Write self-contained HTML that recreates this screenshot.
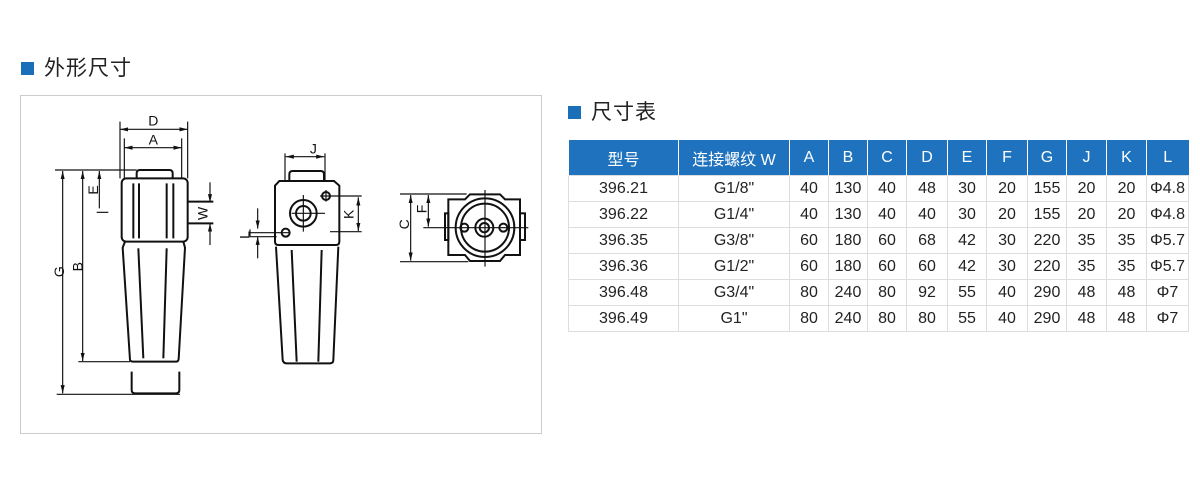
<!DOCTYPE html>
<html><head><meta charset="utf-8"><style>
body{margin:0;width:1200px;height:494px;background:#fff;position:relative;overflow:hidden;font-family:"Liberation Sans","Noto Sans CJK SC",sans-serif}
.t{position:absolute;font-size:21px;color:#222;line-height:24px}
.sq{position:absolute;width:13px;height:13px;background:#1a6fb8}
table{position:absolute;left:568px;top:140px;border-collapse:collapse;font-size:16px;color:#222;table-layout:fixed;width:620px}
th{background:#1f72bd;color:#fff;font-weight:normal;height:35px;border-left:1px solid #fff;padding:0;font-size:16px}
td{height:25px;border:1px solid #ddd;text-align:center;padding:0;white-space:nowrap}
</style></head><body>
<div class="sq" style="left:21px;top:62px"></div>
<div class="t" style="left:44px;top:57px;letter-spacing:1px">外形尺寸</div>
<div class="sq" style="left:568px;top:106px"></div>
<div class="t" style="left:591px;top:101px;letter-spacing:1px">尺寸表</div>
<div style="position:absolute;left:20px;top:95px;width:520px;height:337px;border:1px solid #ccc"></div>
<svg style="position:absolute;left:20px;top:95px" width="520" height="340" viewBox="0 0 1560 1020">
<defs><marker id="a" viewBox="0 0 10 10" refX="10" refY="5" markerWidth="9" markerHeight="9" markerUnits="userSpaceOnUse" orient="auto-start-reverse"><path d="M0,2 L10,5 L0,8z" fill="#111"/></marker>
<marker id="b" viewBox="0 0 10 10" refX="10" refY="5" markerWidth="7" markerHeight="7" orient="auto-start-reverse"><path d="M0,2.5 L10,5 L0,7.5z" fill="#111"/></marker></defs>
<g fill="none" stroke="#111" stroke-width="6">
<path d="M350,250 V235 Q350,225 360,225 H448 Q458,225 458,235 V250"/>
<rect x="305" y="250" width="198" height="190" rx="14"/>
<path d="M340,265 V430 M357,265 V430 M440,265 V430 M460,265 V430"/>
<path d="M315,440 L308,458 L330,795 Q332,800 340,800 H468 Q475,800 476,792 L495,458 L490,440"/>
<path d="M355,460 L370,790 M440,460 L430,790"/>
<path d="M335,830 V885 Q335,895 345,895 H468 Q478,895 478,885 V830"/>
<path d="M503,320 H580 M503,385 H580"/>
<g stroke-width="3.5">
<path d="M300,80 V250 M503,80 V250 M485,130 V250 M313,130 V250"/>
<path d="M300,103 H503" marker-start="url(#b)" marker-end="url(#b)"/>
<path d="M313,158 H485" marker-start="url(#b)" marker-end="url(#b)"/>
<path d="M105,225 H350"/><path d="M110,898 H480"/><path d="M175,800 H330"/>
<path d="M128,228 V895" marker-start="url(#b)" marker-end="url(#b)"/>
<path d="M188,228 V798" marker-start="url(#b)" marker-end="url(#b)"/>
<path d="M238,228 V340" marker-start="url(#b)"/><path d="M230,352 H265"/>
<path d="M570,262 V322" marker-end="url(#b)"/><path d="M570,450 V385" marker-end="url(#b)"/>
</g>
<path d="M808,258 V238 Q808,228 818,228 H902 Q912,228 912,238 V258"/>
<path d="M778,258 H942 L958,272 V440 Q958,450 948,450 H775 Q765,450 765,440 V272z"/>
<path d="M768,455 L788,795 Q790,805 800,805 H930 Q940,805 940,795 L955,455"/>
<path d="M815,465 L830,800 M905,465 L895,800"/>
<circle cx="850" cy="355" r="40"/><circle cx="850" cy="355" r="22"/>
<circle cx="918" cy="303" r="12"/><circle cx="797" cy="413" r="12"/>
<g stroke-width="3.5">
<path d="M795,175 V258 M915,175 V258"/>
<path d="M797,185 H913" marker-start="url(#b)" marker-end="url(#b)"/>
<path d="M815,355 H915 M850,300 V410 M900,303 H1025 M930,410 H1025 M690,413 H810 M918,285 V320"/>
<path d="M1015,307 V408" marker-start="url(#b)" marker-end="url(#b)"/>
<path d="M713,340 V401" marker-end="url(#b)"/><path d="M713,490 V425" marker-end="url(#b)"/>
<path d="M690,403 V425 M690,425 H770"/>
</g>
<path d="M1285,313 H1335 L1350,298 H1440 L1455,313 H1500 V480 H1455 L1440,498 H1350 L1335,480 H1285z"/>
<rect x="1275" y="355" width="10" height="80"/><rect x="1500" y="355" width="15" height="80"/>
<circle cx="1395" cy="398" r="88"/><circle cx="1395" cy="398" r="72"/>
<circle cx="1393" cy="398" r="27"/><circle cx="1393" cy="398" r="14"/>
<circle cx="1333" cy="398" r="12"/><circle cx="1450" cy="398" r="12"/>
<g stroke-width="3.5">
<path d="M1395,285 V515 M1210,398 H1525 M1140,297 H1340 M1140,500 H1345"/>
<path d="M1172,300 V497" marker-start="url(#b)" marker-end="url(#b)"/>
<path d="M1225,300 V395" marker-start="url(#b)" marker-end="url(#b)"/>
</g>
</g>
<g font-family="Liberation Sans" font-size="42" fill="#111" text-anchor="middle">
<text x="400" y="92">D</text><text x="400" y="148">A</text>
<text x="880" y="175">J</text>
<text transform="translate(132,530) rotate(-90)">G</text>
<text transform="translate(187,515) rotate(-90)">B</text>
<text transform="translate(234,285) rotate(-90)">E</text>
<text transform="translate(562,355) rotate(-90)">W</text>
<text transform="translate(1000,358) rotate(-90)">K</text>
<text transform="translate(1167,388) rotate(-90)">C</text>
<text transform="translate(1220,342) rotate(-90)">F</text>
<text transform="translate(688,420) rotate(-90)">L</text>
</g>
</svg>
<table>
<col style="width:110px"><col style="width:111px"><col style="width:39px"><col style="width:39px"><col style="width:39px"><col style="width:41px"><col style="width:39px"><col style="width:41px"><col style="width:39px"><col style="width:40px"><col style="width:40px"><col style="width:42px">
<tr><th>型号</th><th>连接螺纹 W</th><th>A</th><th>B</th><th>C</th><th>D</th><th>E</th><th>F</th><th>G</th><th>J</th><th>K</th><th>L</th></tr>
<tr><td>396.21</td><td>G1/8"</td><td>40</td><td>130</td><td>40</td><td>48</td><td>30</td><td>20</td><td>155</td><td>20</td><td>20</td><td>Φ4.8</td></tr>
<tr><td>396.22</td><td>G1/4"</td><td>40</td><td>130</td><td>40</td><td>40</td><td>30</td><td>20</td><td>155</td><td>20</td><td>20</td><td>Φ4.8</td></tr>
<tr><td>396.35</td><td>G3/8"</td><td>60</td><td>180</td><td>60</td><td>68</td><td>42</td><td>30</td><td>220</td><td>35</td><td>35</td><td>Φ5.7</td></tr>
<tr><td>396.36</td><td>G1/2"</td><td>60</td><td>180</td><td>60</td><td>60</td><td>42</td><td>30</td><td>220</td><td>35</td><td>35</td><td>Φ5.7</td></tr>
<tr><td>396.48</td><td>G3/4"</td><td>80</td><td>240</td><td>80</td><td>92</td><td>55</td><td>40</td><td>290</td><td>48</td><td>48</td><td>Φ7</td></tr>
<tr><td>396.49</td><td>G1"</td><td>80</td><td>240</td><td>80</td><td>80</td><td>55</td><td>40</td><td>290</td><td>48</td><td>48</td><td>Φ7</td></tr>
</table>
</body></html>
